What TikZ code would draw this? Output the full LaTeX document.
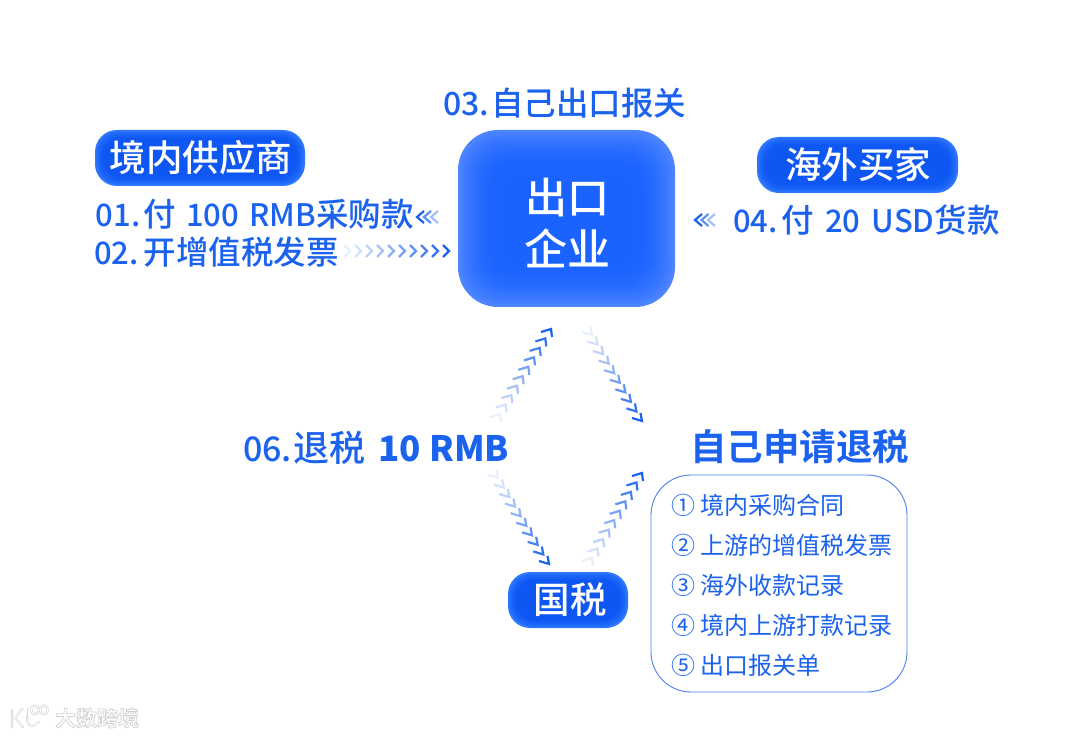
\documentclass[tikz,border=0pt]{standalone}
\usepackage{fontspec}
\setmainfont{Noto Sans CJK SC}[BoldFont={Noto Sans CJK SC Bold}]
\newfontfamily\cjkm{Noto Sans CJK SC Medium}
\usetikzlibrary{calc}
\definecolor{tblue}{HTML}{1B62EE}
\definecolor{pillcore}{HTML}{0E57F3}
\definecolor{pilledge}{HTML}{3079FF}
\definecolor{boxcore}{HTML}{1B63FF}
\definecolor{boxedge}{HTML}{4F86FF}
\definecolor{wm}{HTML}{D2D2D2}
\newcommand\fs[1]{\fontsize{#1}{#1}\selectfont}
\newcommand\chevmin{10}
% tips from (x1,y1) faint to (x2,y2) solid, arm vectors, count
\newcommand\chevrons[9]{%
  \foreach \i in {1,...,#9}{%
    \pgfmathsetmacro\tf{(\i-1)/(#9-1)}%
    \pgfmathsetmacro\op{int(\chevmin+(100-\chevmin)*\tf)}%
    \coordinate (tip) at ({#1+(#3-#1)*\tf},{#2+(#4-#2)*\tf});
    \draw[chev,draw=tblue!\op!white] ($(tip)+(#5,#6)$) -- (tip) -- ($(tip)+(#7,#8)$);
  }}
% rounded block with a soft lighter rim: x1 y1 x2 y2 radius depth steps edge core
\newcommand\glowbox[9]{%
  \foreach \i in {0,...,#7}{%
    \pgfmathsetmacro\ins{#6*\i/#7}%
    \pgfmathsetmacro\rad{max(#5-0.4*\ins,1)}%
    \pgfmathsetmacro\mixv{int(100*(1-(1-\i/#7)^2))}%
    \fill[#9!\mixv!#8,rounded corners=\rad pt] ({#1+\ins},{#2+\ins}) rectangle ({#3-\ins},{#4-\ins});
  }}
\tikzset{
  pilltext/.style={text=white,font=\cjkm\fs{36.5},inner sep=0pt,anchor=center},
  bluetext/.style={text=tblue,font=\cjkm\fs{32.5},inner sep=0pt,anchor=west},
  listtext/.style={text=tblue,font=\fs{24},inner sep=0pt,anchor=west},
  chev/.style={line width=2.2pt,line cap=butt,line join=miter},
  logoline/.style={draw=wm,double=white,double distance=0.9pt,line width=0.6pt,line cap=round},
}
\begin{document}
\begin{tikzpicture}[x=1pt,y=-1pt]
\useasboundingbox (0,0) rectangle (1080,738);
\fill[white] (0,0) rectangle (1080,738);
% centre block
\glowbox{458}{130}{675}{307}{40}{40}{40}{boxedge}{boxcore}
\node[text=white,font=\cjkm\fs{42},inner sep=0pt] (firmA) at (567,198) {出口};
\node[text=white,font=\cjkm\fs{43},inner sep=0pt] (firmB) at (567,248) {企业};
\node[bluetext] (t03) at (443,103) {{\fs{32}03.}\hspace{2pt}自己出口报关};
% supplier
\glowbox{95}{130}{305}{186}{22}{10}{10}{pilledge}{pillcore}
\node[pilltext] (sup) at (201,158) {境内供应商};
\node[bluetext] (t01) at (95.5,214) {{\fs{31}01.}\hspace{3.5pt}付\hspace{10pt}{\fs{31}100}\hspace{10pt}{\fs{31}RMB}采购款};
\node[bluetext] (t02) at (94,252) {{\fs{31}02.}\hspace{5pt}开增值税发票};
% buyer
\glowbox{757}{137}{958}{193}{22}{10}{10}{pilledge}{pillcore}
\node[pilltext] (buy) at (858,164) {海外买家};
\node[bluetext] (t04) at (733,220) {{\fs{31}04.}\hspace{4pt}付\hspace{11pt}{\fs{31}20}\hspace{11pt}{\fs{31}USD}货款};
% tax
\glowbox{508}{572}{628}{628}{22}{10}{10}{pilledge}{pillcore}
\node[pilltext] (tax) at (570,600) {国税};
\node[bluetext,font=\cjkm\fs{34}] (t06) at (243,448) {06.\hspace{1.5pt}{\fs{36}退税}\hspace{13pt}{\bfseries\fs{35}10 RMB}};
\node[bluetext,font=\bfseries\fs{36.5},anchor=center] (self) at (799.5,447) {自己申请退税};
% list
\draw[tblue!80!white,line width=0.9pt,rounded corners=40pt] (651,475) rectangle (907,692);
\node[listtext] (l1) at (671,505) {①\hspace{5pt}境内采购合同};
\node[listtext] (l2) at (671,545) {②\hspace{5pt}上游的增值税发票};
\node[listtext] (l3) at (671,585) {③\hspace{5pt}海外收款记录};
\node[listtext] (l4) at (671,625) {④\hspace{5pt}境内上游打款记录};
\node[listtext] (l5) at (671,665) {⑤\hspace{5pt}出口报关单};
% chevrons
\chevrons{350}{251}{449}{251}{-6}{-6}{-6}{6}{10}
\renewcommand\chevmin{40}
\chevrons{431}{217}{417}{217}{7}{-6}{7}{6}{3}
\chevrons{708}{220}{695}{220}{7}{-6}{7}{6}{3}
\renewcommand\chevmin{10}
\chevrons{500}{414}{551}{329}{-10}{3}{1}{8}{10}
\chevrons{592}{335}{642}{421}{-1.5}{-8}{-10}{-3}{10}
\chevrons{498}{478}{549}{564}{-1.5}{-8}{-10}{-3}{10}
\chevrons{592}{558}{642}{473}{-10}{3}{1}{8}{10}
% watermark
\draw[logoline] (12,710) -- (12,727) (22,709) -- (15,718) -- (23,727);
\draw[logoline] (28,709) -- (28,716);
\draw[logoline] (27,716) .. controls (26,726) and (33,729) .. (39,722);
\draw[logoline] (35,710) ellipse[x radius=3.8,y radius=4.5] (44,710) ellipse[x radius=3.8,y radius=4.5];
\node[text=wm,font=\bfseries\fs{21},inner sep=0pt,anchor=west] (wmark) at (55,718) {\special{pdf:code q 2 Tr 0.7 w 0.82 G 1 g}大数跨境\special{pdf:code Q}};
\end{tikzpicture}
\end{document}
